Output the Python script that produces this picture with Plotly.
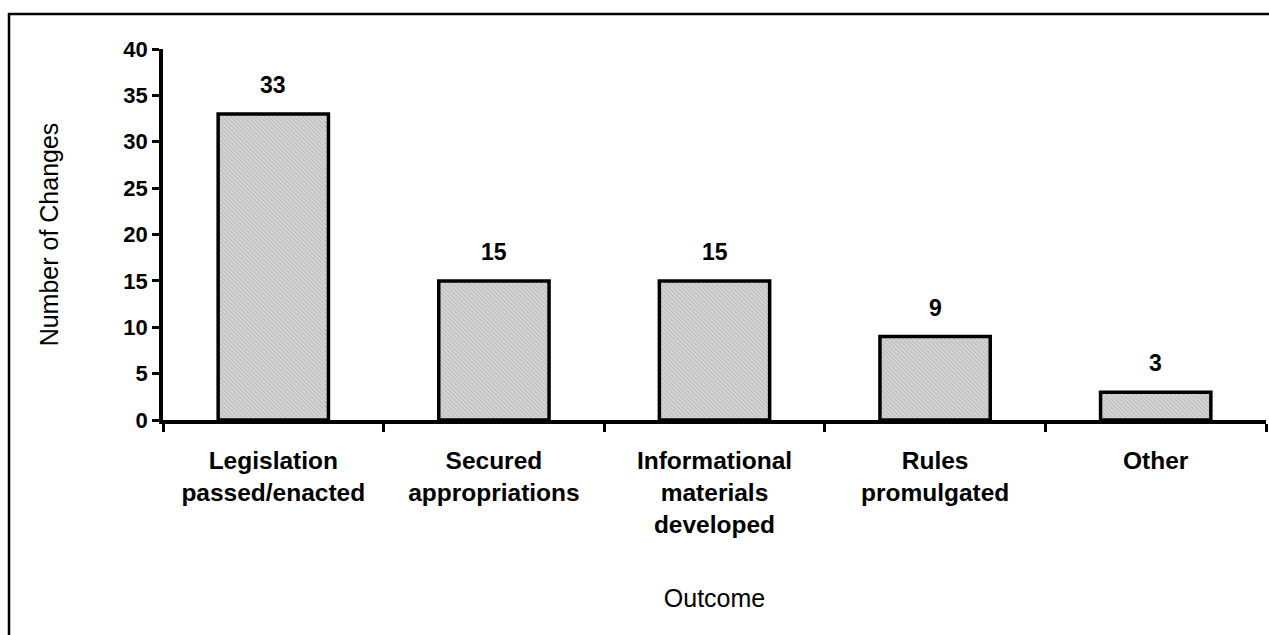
import plotly.graph_objects as go

categories = ["Legislation<br>passed/enacted", "Secured<br>appropriations",
              "Informational<br>materials<br>developed", "Rules<br>promulgated", "Other"]
changes = [33, 15, 15, 9, 3]
y_ticks = [0, 5, 10, 15, 20, 25, 30, 35, 40]

W, H = 1269, 635
L, R, T, B = 163, 3, 49, 215
pw, ph = W - L - R, H - T - B


def px_x(p):
    return (p - L) / pw


def px_y(p):
    return (H - B - p) / ph


FONT = "Liberation Sans, Arial, sans-serif"

fig = go.Figure(go.Bar(
    x=categories, y=changes,
    marker=dict(color="#c8c8c8", line=dict(color="black", width=3.5),
                pattern=dict(shape="\\", fgcolor="#9a9a9a", bgcolor="#d6d6d6", size=3, solidity=0.35)),
))

# value labels above the bars, lifted a bit like the original
for c, v in zip(categories, changes):
    fig.add_annotation(x=c, y=v, text=f"<b>{v}</b>", showarrow=False, yanchor="bottom", yshift=14,
                       font=dict(family=FONT, size=23, color="black"))

fig.update_layout(
    width=W, height=H, margin=dict(l=L, r=R, t=T, b=B),
    plot_bgcolor="white", paper_bgcolor="white", showlegend=False, bargap=0.5,
    font=dict(family=FONT, color="black"),
    xaxis=dict(
        showline=True, linecolor="black", linewidth=3.5, ticks="outside", tickson="boundaries",
        ticklen=8, tickwidth=3, tickcolor="black", showgrid=False, ticklabelstandoff=16,
        tickfont=dict(family=FONT, size=24.5, color="black", weight="bold"),
        title=dict(text="Outcome", font=dict(family=FONT, size=25, color="black"), standoff=54),
    ),
    yaxis=dict(
        range=[0, 40], tickvals=y_ticks, showline=True, linecolor="black", linewidth=3.5,
        ticks="outside", ticklen=7, tickwidth=3, tickcolor="black", showgrid=False, zeroline=False,
        tickfont=dict(family=FONT, size=22, color="black", weight="bold"),
        title=dict(text="Number of Changes", font=dict(family=FONT, size=25, color="black"), standoff=59),
    ),
    shapes=[dict(type="rect", xref="paper", yref="paper",
                 x0=px_x(9), x1=px_x(1290), y0=px_y(660), y1=px_y(14),
                 line=dict(color="black", width=2.5), fillcolor="rgba(0,0,0,0)", layer="below")],
)

fig.write_html("out.html", config={"displayModeBar": False},
               post_script="document.body.style.margin='0';")
